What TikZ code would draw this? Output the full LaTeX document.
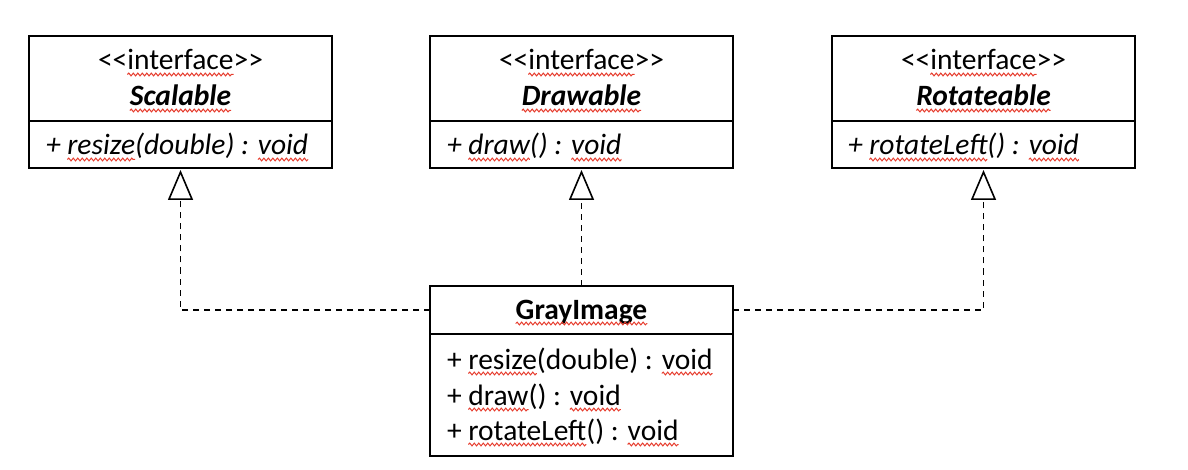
\documentclass[tikz,border=0pt]{standalone}
\usepackage{fontspec}
\setmainfont{Carlito}
\usetikzlibrary{arrows.meta,decorations.pathmorphing}
\definecolor{squigred}{RGB}{230,60,45}
\tikzset{
  squig/.style={draw=squigred, line width=1pt, decorate,
    decoration={snake, segment length=4.5pt, amplitude=1.4pt}},
  umlbox/.style={draw=black, line width=2pt, inner sep=0pt, outer sep=0pt, minimum width=303pt},
  txt/.style={inner sep=0pt, outer sep=0pt, font=\fontsize{29.5}{36}\selectfont},
  realize/.style={draw=black, line width=1.8pt, dash pattern=on 6pt off 5pt,
    -{Triangle[open, length=30pt, width=25pt, line width=1.6pt, sep=0pt]}, shorten >=2pt},
}
\newcommand\sqw[1]{\tikz[baseline=(sqw.base)]{\node[inner sep=0pt,outer sep=0pt](sqw){#1};\draw[squig,overlay]([yshift=-4.5pt]sqw.base west)--([yshift=-4.5pt]sqw.base east);}}
\newcommand\ifc{<\kern0pt<\sqw{interface}>\kern0pt>}
\begin{document}
\begin{tikzpicture}[x=1pt,y=-1pt]
\useasboundingbox (0,0) rectangle (1188,470);
% interface boxes
\node[umlbox, minimum height=132pt] (scal) at (180.5,102) {};
\node[umlbox, minimum height=132pt] (draw) at (581.5,102) {};
\node[umlbox, minimum height=132pt] (rot)  at (983.5,102) {};
\draw[line width=2pt] (scal.west |- 0,121) coordinate (sd1) -- (scal.east |- 0,121) coordinate (sd2);
\draw[line width=2pt] (draw.west |- 0,121) coordinate (dd1) -- (draw.east |- 0,121) coordinate (dd2);
\draw[line width=2pt] (rot.west |- 0,121) coordinate (rd1) -- (rot.east |- 0,121) coordinate (rd2);
% interface texts
\node[txt, anchor=base] (st1) at (180.5,70) {\ifc};
\node[txt, anchor=base] (st2) at (180.5,106) {\textbf{\textit{\sqw{Scalable}}}};
\node[txt, anchor=base west] (sm1) at (46,155) {\textit{+ \sqw{resize}(double) : \sqw{void}}};
\node[txt, anchor=base] (dt1) at (581.5,70) {\ifc};
\node[txt, anchor=base] (dt2) at (581.5,106) {\textbf{\textit{\sqw{Drawable}}}};
\node[txt, anchor=base west] (dm1) at (447,155) {\textit{+ \sqw{draw}() : \sqw{void}}};
\node[txt, anchor=base] (rt1) at (983.5,70) {\ifc};
\node[txt, anchor=base] (rt2) at (983.5,106) {\textbf{\textit{\sqw{Rotateable}}}};
\node[txt, anchor=base west] (rm1) at (848,155) {\textit{+ \sqw{rotateLeft}() : \sqw{void}}};
% GrayImage class
\node[umlbox, minimum height=48pt] (gray) at (581.5,310) {};
\node[umlbox, minimum height=122pt] (grayb) at (581.5,395) {};
\node[txt, anchor=base] (gt) at (581.5,319) {\textbf{\sqw{GrayImage}}};
\node[txt, anchor=base west] (gm1) at (447,369) {+ \sqw{resize}(double) : \sqw{void}};
\node[txt, anchor=base west] (gm2) at (447,405) {+ \sqw{draw}() : \sqw{void}};
\node[txt, anchor=base west] (gm3) at (447,440) {+ \sqw{rotateLeft}() : \sqw{void}};
% realizations
\draw[realize] (gray.west) -| (scal.south);
\draw[realize] (gray.north) -- (draw.south);
\draw[realize] (gray.east) -| (rot.south);
\end{tikzpicture}
\end{document}
